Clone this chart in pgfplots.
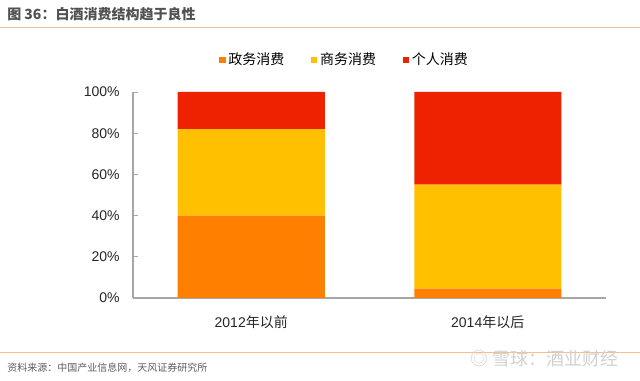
\documentclass[border=0pt]{standalone}
\usepackage{fontspec}
\setmainfont{Liberation Sans}
\newfontfamily\cjk{Noto Sans CJK SC}
\usepackage{pgfplots}
\pgfplotsset{compat=1.18}
\definecolor{corange}{HTML}{FF7F00}
\definecolor{cyellow}{HTML}{FFC000}
\definecolor{cred}{HTML}{EE2200}
\definecolor{lineor}{HTML}{F5BF90}
\definecolor{axgray}{HTML}{A6A6A6}
\definecolor{txt}{HTML}{262626}
\begin{document}
\begin{tikzpicture}[x=1pt,y=1pt]
\path[use as bounding box] (0pt,0pt) rectangle (480pt,285.75pt);
\begin{axis}[
  at={(99.75pt,62.25pt)}, anchor=south west,
  scale only axis, width=354.75pt, height=154.5pt,
  ybar stacked, bar width=110.25pt,
  xmin=-0.5, xmax=1.5, ymin=0, ymax=100,
  xtick={0,1}, xticklabels={2012{\cjk 年以前},2014{\cjk 年以后}},
  ytick={0,20,40,60,80,100},
  yticklabel={\pgfmathprintnumber{\tick}\%},
  axis x line=bottom, axis y line=left,
  axis line style={draw=axgray, line width=0.8pt, -},
  major x tick style={draw=none},
  major y tick style={draw=axgray, line width=0.6pt},
  tick align=inside, major tick length=4pt,
  tick label style={font=\fontsize{10.5}{12}\selectfont, text=txt},
  xticklabel style={anchor=base, yshift=-22.5pt},
  yticklabel style={xshift=-6.5pt},
  /pgf/number format/assume math mode=true,
  legend style={at={(0.448,1.155)}, anchor=center, draw=none, fill=none,
    legend columns=3, font=\cjk\fontsize{10.5}{12}\selectfont,
    /tikz/every even column/.append style={column sep=18pt},
    inner sep=0pt},
  legend image code/.code={\fill[#1] (0pt,-2.4pt) rectangle (4.8pt,2.4pt);},
  legend cell align=left,
]
\addplot[fill=corange, draw=none] coordinates {(0,40) (1,4.5)};
\addplot[fill=cyellow, draw=none] coordinates {(0,42) (1,50.5)};
\addplot[fill=cred, draw=none] coordinates {(0,18) (1,45)};
\legend{政务消费,商务消费,个人消费}
\end{axis}
\node[anchor=west, inner sep=0pt, text=txt!80] at (5.25pt,275.25pt) {\cjk\bfseries\fontsize{10.5}{12}\selectfont 图 36：白酒消费结构趋于良性};
\draw[draw=lineor, line width=1.2pt] (0pt,265.25pt) -- (480pt,265.25pt);
\draw[draw=lineor, line width=1.2pt] (0pt,21.5pt) -- (480pt,21.5pt);
\node[anchor=west, inner sep=0pt, text=txt!75] at (5.25pt,10pt) {\cjk\fontsize{7.5}{9}\selectfont 资料来源：中国产业信息网，天风证券研究所};
\node[anchor=west, inner sep=0pt, text=black!18] at (353pt,16.75pt) {\cjk\fontsize{13.5}{15}\selectfont ◎ 雪球：酒业财经};
\end{tikzpicture}
\end{document}
